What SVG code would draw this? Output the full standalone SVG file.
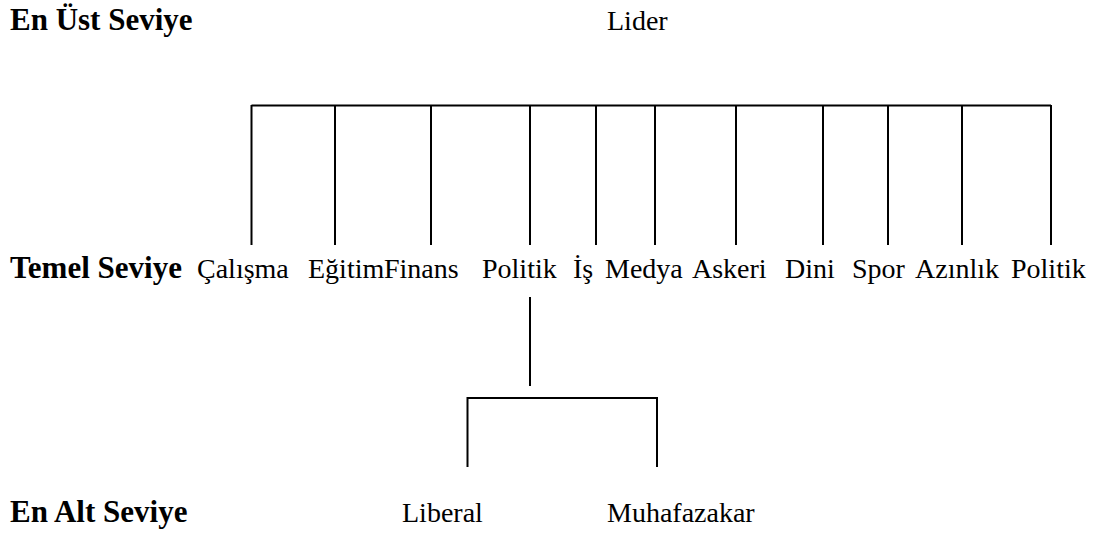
<svg xmlns="http://www.w3.org/2000/svg" width="1101" height="534" viewBox="0 0 1101 534">
<style>
.lbl{font-family:"Liberation Serif","Times New Roman",serif;font-weight:bold;font-size:31px;fill:#000}
.nd{font-family:"Liberation Serif","Times New Roman",serif;font-size:28px;fill:#000}
.ln{stroke:#000;stroke-width:2;fill:none}
</style>
<rect width="1101" height="534" fill="#fff"/>
<g id="levels">
<text class="lbl" x="10" y="30">En Üst Seviye</text>
<text class="lbl" x="10" y="278">Temel Seviye</text>
<text class="lbl" x="10" y="522">En Alt Seviye</text>
</g>
<g id="n-lider"><text class="nd" x="607" y="30">Lider</text></g>
<g id="n-calisma"><text class="nd" x="197" y="278">Çalışma</text></g>
<g id="n-egitim"><text class="nd" x="308" y="278">Eğitim</text></g>
<g id="n-finans"><text class="nd" x="384" y="278">Finans</text></g>
<g id="n-politik1"><text class="nd" x="482" y="278">Politik</text></g>
<g id="n-is"><text class="nd" x="573" y="278">İş</text></g>
<g id="n-medya"><text class="nd" x="605" y="278">Medya</text></g>
<g id="n-askeri"><text class="nd" x="692" y="278">Askeri</text></g>
<g id="n-dini"><text class="nd" x="785" y="278">Dini</text></g>
<g id="n-spor"><text class="nd" x="852" y="278">Spor</text></g>
<g id="n-azinlik"><text class="nd" x="915" y="278">Azınlık</text></g>
<g id="n-politik2"><text class="nd" x="1011" y="278">Politik</text></g>
<g id="n-liberal"><text class="nd" x="402" y="522">Liberal</text></g>
<g id="n-muhafazakar"><text class="nd" x="607" y="522">Muhafazakar</text></g>
<g id="connectors" class="ln">
<path d="M251.5 105.5H1051"/>
<path d="M251.5 105V245M335 105V245M431 105V245M530 105V245M596 105V245M655 105V245M736 105V245M823 105V245M888 105V245M962 105V245M1051 105V245"/>
<path d="M530 297V386"/>
<path d="M467.5 398H657M467.5 397V467M657 397V467"/>
</g>
</svg>
